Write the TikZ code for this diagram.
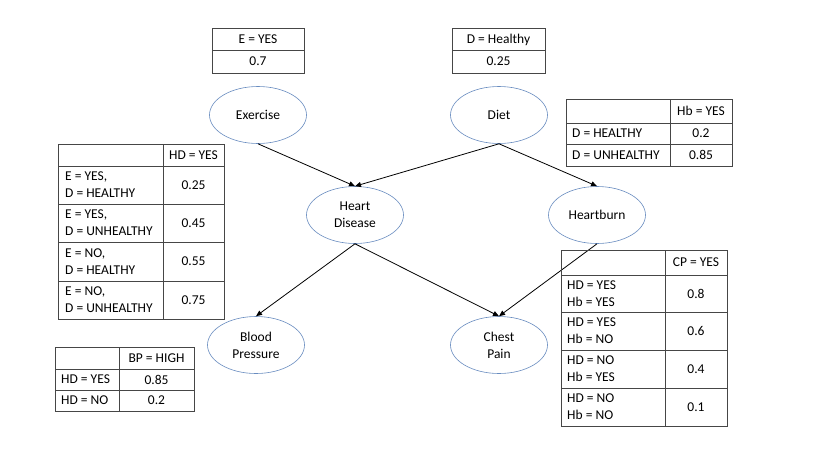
\documentclass[tikz,border=0pt]{standalone}
\usepackage{fontspec}
\setmainfont{Carlito}
\usetikzlibrary{shapes.geometric,arrows.meta}
\definecolor{ellblue}{RGB}{104,140,192}
\definecolor{tblgray}{RGB}{70,70,70}
\begin{document}
\begin{tikzpicture}[x=1pt,y=-1pt,
  font=\fontsize{13.5}{17}\selectfont,
  bn/.style={ellipse, draw=ellblue, line width=0.6pt, minimum width=97pt, minimum height=57pt, inner sep=0pt, align=center},
  tbl/.style={draw=tblgray, line width=0.9pt},
  cell/.style={inner sep=0pt, anchor=center},
  lcell/.style={inner sep=0pt, anchor=west, align=left},
  arr/.style={-{Triangle[length=6pt,width=5pt]}, line width=0.8pt}]
\useasboundingbox[fill=white] (0,0) rectangle (816,464);

% nodes
\node[bn] (ex) at (258,115) {Exercise};
\node[bn] (di) at (499,115) {Diet};
\node[bn] (hd) at (355,215) {Heart\\Disease};
\node[bn] (hb) at (597,215) {Heartburn};
\node[bn] (bp) at (256,345) {Blood\\Pressure};
\node[bn] (cp) at (499,345) {Chest\\Pain};

% edges
\draw[arr] (ex.south) -- (hd.north);
\draw[arr] (di.south) -- (hd.north);
\draw[arr] (di.south) -- (hb.north);
\draw[arr] (hd.south) -- (bp.north);
\draw[arr] (hd.south) -- (cp.north);
\draw[arr] (hb.south) -- (cp.north);

% table E
\draw[tbl] (212,28) rectangle (304,73);
\draw[tbl] (212,50) -- (304,50);
\node[cell] (e1) at (258,39.5) {E = YES};
\node[cell] (e2) at (258,61.5) {0.7};

% table D
\draw[tbl] (452,28) rectangle (545,73);
\draw[tbl] (452,50) -- (545,50);
\node[cell] (d1) at (498.5,39.5) {D = Healthy};
\node[cell] (d2) at (498.5,61.5) {0.25};

% table HD
\draw[tbl] (58,144) rectangle (224,319);
\draw[tbl] (163,144) -- (163,319);
\foreach \yy in {166,204,242,281} \draw[tbl] (58,\yy) -- (224,\yy);
\node[cell] (h0) at (193.5,155) {HD = YES};
\node[lcell] (h1l) at (65,185) {E = YES,\\D = HEALTHY};
\node[cell] (h1r) at (193.5,185) {0.25};
\node[lcell] (h2l) at (65,223) {E = YES,\\D = UNHEALTHY};
\node[cell] (h2r) at (193.5,223) {0.45};
\node[lcell] (h3l) at (65,261.5) {E = NO,\\D = HEALTHY};
\node[cell] (h3r) at (193.5,261.5) {0.55};
\node[lcell] (h4l) at (65,300) {E = NO,\\D = UNHEALTHY};
\node[cell] (h4r) at (193.5,300) {0.75};

% table Hb
\draw[tbl] (566,99) rectangle (732,166);
\draw[tbl] (670,99) -- (670,166);
\foreach \yy in {123,144} \draw[tbl] (566,\yy) -- (732,\yy);
\node[cell] (b0) at (701,111) {Hb = YES};
\node[lcell] (b1l) at (572,133.5) {D = HEALTHY};
\node[cell] (b1r) at (701,133.5) {0.2};
\node[lcell] (b2l) at (572,155) {D = UNHEALTHY};
\node[cell] (b2r) at (701,155) {0.85};

% table CP
\draw[tbl] (561,250) rectangle (727,426);
\draw[tbl] (665,250) -- (665,426);
\foreach \yy in {275,312,350,388} \draw[tbl] (561,\yy) -- (727,\yy);
\node[cell] (c0) at (696,262.5) {CP = YES};
\node[lcell] (c1l) at (567,293.5) {HD = YES\\Hb = YES};
\node[cell] (c1r) at (696,293.5) {0.8};
\node[lcell] (c2l) at (567,331) {HD = YES\\Hb = NO};
\node[cell] (c2r) at (696,331) {0.6};
\node[lcell] (c3l) at (567,369) {HD = NO\\Hb = YES};
\node[cell] (c3r) at (696,369) {0.4};
\node[lcell] (c4l) at (567,407) {HD = NO\\Hb = NO};
\node[cell] (c4r) at (696,407) {0.1};

% table BP
\draw[tbl] (55,347) rectangle (194,411);
\draw[tbl] (119,347) -- (119,411);
\foreach \yy in {369,390} \draw[tbl] (55,\yy) -- (194,\yy);
\node[cell] (p0) at (156.5,358) {BP = HIGH};
\node[lcell] (p1l) at (61,379.5) {HD = YES};
\node[cell] (p1r) at (156.5,379.5) {0.85};
\node[lcell] (p2l) at (61,400.5) {HD = NO};
\node[cell] (p2r) at (156.5,400.5) {0.2};
\end{tikzpicture}
\end{document}
